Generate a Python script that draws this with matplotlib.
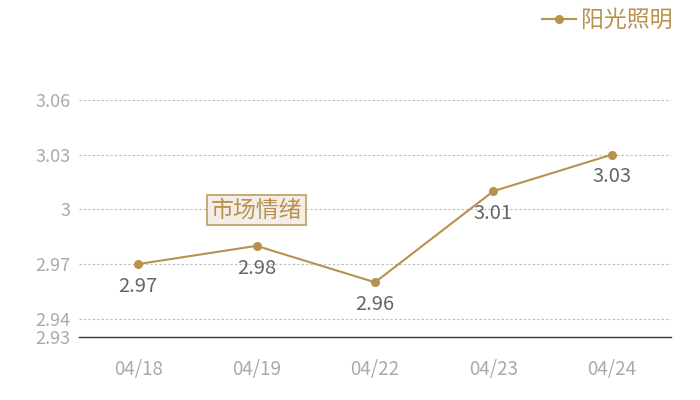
import matplotlib
matplotlib.use("Agg")
import matplotlib.pyplot as plt

plt.rcParams['font.family'] = ['Noto Sans CJK SC', 'DejaVu Sans']

dates = ["04/18", "04/19", "04/22", "04/23", "04/24"]
values = [2.97, 2.98, 2.96, 3.01, 3.03]
yticks = [2.93, 2.94, 2.97, 3.00, 3.03, 3.06]
ytick_labels = ["2.93", "2.94", "2.97", "3", "3.03", "3.06"]
series_name = "阳光照明"
annotation = "市场情绪"

gold = "#b8914f"
fig = plt.figure(figsize=(7, 4), dpi=100)
ax = fig.add_axes([79/700, 1-337/400, (671-79)/700, (337-100)/400])

x = list(range(len(dates)))
line, = ax.plot(x, values, color=gold, lw=1.5, marker='o', ms=5.5, label=series_name)
for xi, v in zip(x, values):
    ax.annotate(f"{v:g}", (xi, v), xytext=(0, -16), textcoords='offset points',
                ha='center', va='center', fontsize=14.5, color='#666666')

ax.set_xlim(-0.5, len(dates) - 0.5)
ax.set_ylim(2.93, 3.06)
ax.set_xticks(x)
ax.set_xticklabels(dates)
ax.set_yticks(yticks)
ax.set_yticklabels(ytick_labels)
ax.tick_params(axis='both', length=0, colors='#aaaaaa', labelsize=13.5)
ax.tick_params(axis='y', labelsize=13)
ax.tick_params(axis='x', pad=16)
ax.tick_params(axis='y', pad=6)
for yt in yticks[1:]:
    ax.axhline(yt, color='#bbbbbb', lw=0.8, ls=(0, (2, 2)), zorder=0)
for s in ['top', 'right', 'left']:
    ax.spines[s].set_visible(False)
ax.spines['bottom'].set_color('#333333')
ax.spines['bottom'].set_linewidth(1)

ax.text(1, 2.9995, annotation, ha='center', va='center', fontsize=16.5, color=gold,
        bbox=dict(boxstyle='square,pad=0.16', fc='#f3efe8', ec='#c8a875', lw=1.4), zorder=5)

leg = fig.legend(handles=[line], loc='upper right', bbox_to_anchor=(0.99, 1.03),
                 frameon=False, fontsize=16.5, handlelength=1.5, handletextpad=0.2)
for t in leg.get_texts():
    t.set_color(gold)

fig.savefig("out.png", dpi=100)
